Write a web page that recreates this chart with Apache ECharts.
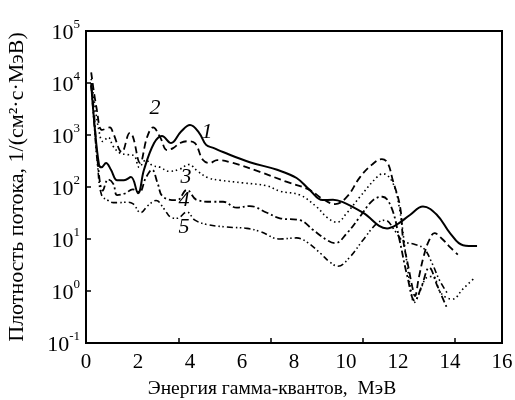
<!DOCTYPE html>
<html>
<head>
<meta charset="utf-8">
<script src="https://cdn.jsdelivr.net/npm/echarts@6/dist/echarts.min.js"></script>
<style>
  html, body { margin: 0; padding: 0; background: #fff; }
  #chart { width: 515px; height: 400px; }
</style>
</head>
<body>
<div id="chart"></div>
<script>
// energy (MeV) / flux pairs
const curve1 = [[0.2, 10000], [0.31, 1950], [0.5, 265], [0.6, 240], [0.77, 290], [0.96, 214], [1.2, 135], [1.46, 135],
  [1.73, 155], [2.0, 76], [2.23, 214], [2.62, 700], [2.92, 960], [3.27, 700], [3.65, 1150], [4.0, 1550], [4.35, 1100],
  [4.62, 645], [4.92, 560], [5.27, 470], [6.3, 300], [7.35, 214], [8.1, 149], [8.6, 88], [9.1, 56], [9.5, 57],
  [9.88, 51], [10.65, 32], [11.58, 16], [11.96, 19], [12.46, 29], [12.96, 42], [13.5, 29], [14.0, 13], [14.5, 7.6], [15.04, 7.3]];
const curve2 = [[0.2, 16000], [0.42, 3000], [0.62, 1250], [0.92, 1400], [1.04, 1100], [1.38, 470], [1.69, 1100],
  [1.81, 910], [2.08, 290], [2.35, 910], [2.58, 1400], [2.85, 910], [3.12, 510], [3.35, 560], [3.62, 700], [3.92, 760],
  [4.19, 700], [4.5, 330], [4.77, 290], [5.04, 330], [5.65, 290], [6.69, 195], [7.73, 125], [8.6, 88], [9.1, 59],
  [9.58, 47], [10.04, 65], [10.54, 155], [11.0, 270], [11.38, 345], [11.6, 290], [11.8, 135], [12.08, 42], [12.2, 9.5],
  [12.4, 2.9], [12.55, 1.2], [12.65, 0.8], [12.8, 1.8], [13.0, 4.9], [13.2, 9.5], [13.4, 13], [13.7, 10], [14.0, 7], [14.3, 5]];
const curve3 = [[0.2, 12000], [0.35, 3500], [0.5, 1200], [0.65, 750], [0.85, 900], [1.05, 600], [1.3, 450], [1.6, 420],
  [1.85, 400], [2.05, 240], [2.3, 330], [2.55, 260], [2.85, 240], [3.2, 200], [3.6, 220], [3.95, 270], [4.3, 200],
  [4.7, 150], [5.15, 135], [6.04, 120], [6.96, 105], [7.46, 83], [8.23, 70], [8.88, 41], [9.27, 26], [9.65, 21],
  [10.04, 32], [10.54, 65], [11.19, 155], [11.42, 180], [11.8, 120], [12.05, 40], [12.3, 5], [12.5, 1.0], [12.62, 0.6],
  [12.85, 1.0], [13.1, 1.8], [13.35, 1.9], [13.6, 1.0], [13.85, 0.75], [14.1, 0.7], [14.5, 1.1], [14.9, 1.7]];
const curve4 = [[0.2, 9000], [0.3, 3000], [0.45, 300], [0.65, 85], [0.85, 140], [1.05, 115], [1.2, 70], [1.5, 75],
  [1.8, 90], [2.05, 80], [2.3, 150], [2.54, 214], [2.75, 120], [2.96, 65], [3.5, 56], [3.88, 88], [4.27, 56], [4.88, 52],
  [5.27, 52], [5.8, 40], [6.3, 43], [6.96, 32], [7.46, 25], [8.23, 23], [8.73, 15], [9.27, 9.5], [9.58, 8.3], [10.04, 13],
  [10.54, 27], [11.04, 56], [11.4, 65], [11.75, 40], [12.05, 10], [12.35, 2], [12.65, 0.65], [12.9, 1.2], [13.2, 2.8],
  [13.5, 1.3], [13.9, 0.45]];
const curve5 = [[0.2, 9000], [0.3, 2000], [0.45, 250], [0.6, 70], [0.85, 55], [1.05, 50], [1.27, 50], [1.54, 51],
  [1.8, 48], [2.1, 32], [2.4, 45], [2.7, 55], [3.0, 38], [3.27, 26], [3.5, 25], [3.88, 33], [4.19, 23], [4.65, 19],
  [5.42, 17], [6.19, 16], [6.69, 14], [7.46, 10], [8.1, 10.5], [8.5, 8.7], [9.0, 5.4], [9.38, 3.6], [9.69, 3.0],
  [10.15, 4.5], [10.65, 9.5], [11.19, 20], [11.5, 23], [11.9, 14], [12.2, 9], [12.6, 8], [13.0, 6.5], [13.3, 3.5],
  [13.6, 1.6], [13.9, 0.9]];

// curve numbers placed next to the lines
const curveLabels = [[4.65, 1150, '1'], [2.65, 3300, '2'], [3.85, 155, '3'], [3.77, 56, '4'], [3.77, 17, '5']];

const xTicks = [0, 2, 4, 6, 8, 10, 12, 14, 16];

const serif = 'Liberation Serif';

const lineSeries = (data, type, width) => ({
  type: 'line',
  data: data,
  smooth: 0.4,
  symbol: 'none',
  lineStyle: { color: '#000', width: width, type: type, cap: 'butt' },
});

const chart = echarts.init(document.getElementById('chart'));
chart.setOption({
  animation: false,
  backgroundColor: '#fff',
  grid: {
    left: 86, right: 13, top: 31, bottom: 57,
    outerBoundsMode: 'none',
    show: true, borderColor: '#000', borderWidth: 2,
  },
  xAxis: [
    {
      type: 'value',
      min: xTicks[0],
      max: xTicks[xTicks.length - 1],
      interval: 2,
      name: 'Энергия гамма-квантов,  МэВ',
      nameLocation: 'middle',
      nameGap: 36,
      nameTextStyle: { fontFamily: serif, fontSize: 19.5, color: '#000', padding: [0, 44, 0, 0] },
      axisLine: { lineStyle: { color: '#000', width: 2 } },
      axisTick: { show: false },
      axisLabel: { fontFamily: serif, fontSize: 21, color: '#000', margin: 9 },
      splitLine: { show: false },
    },
    {
      // the printed tick marks do not sit on the labels
      type: 'value',
      position: 'bottom',
      min: 0,
      max: 16,
      interval: 3.55,
      axisLine: { show: false },
      axisTick: { inside: true, length: 5, lineStyle: { color: '#000', width: 1.5 } },
      axisLabel: { show: false },
      splitLine: { show: false },
    },
  ],
  yAxis: {
    type: 'log',
    logBase: 10,
    min: 0.1,
    max: 100000,
    name: 'Плотность потока, 1/(см²·с·МэВ)',
    nameLocation: 'middle',
    nameGap: 58,
    nameTextStyle: { fontFamily: serif, fontSize: 22, color: '#000' },
    axisLine: { lineStyle: { color: '#000', width: 2 } },
    axisTick: { inside: true, length: 5, lineStyle: { color: '#000', width: 1.5 } },
    axisLabel: {
      margin: 6,
      formatter: v => '{b|10}{s|' + Math.round(Math.log10(v)) + '}',
      rich: {
        b: { fontFamily: serif, fontSize: 22, color: '#000', lineHeight: 26, verticalAlign: 'bottom' },
        s: { fontFamily: serif, fontSize: 13, color: '#000', lineHeight: 26, verticalAlign: 'top' },
      },
    },
    splitLine: { show: false },
  },
  series: [
    lineSeries(curve1, 'solid', 2),
    lineSeries(curve2, [7, 4], 1.8),
    lineSeries(curve3, [1.5, 3], 1.6),
    lineSeries(curve4, [7, 3, 2, 3], 1.8),
    lineSeries(curve5, [6, 3, 1.5, 2.5, 1.5, 3], 1.6),
    {
      type: 'scatter',
      data: curveLabels,
      symbolSize: 1,
      itemStyle: { color: 'rgba(0,0,0,0)', opacity: 1 },
      label: {
        show: true,
        position: 'inside',
        formatter: p => p.value[2],
        fontFamily: serif,
        fontStyle: 'italic',
        fontSize: 22,
        color: '#000',
        opacity: 1,
      },
    },
  ],
});
</script>
</body>
</html>
